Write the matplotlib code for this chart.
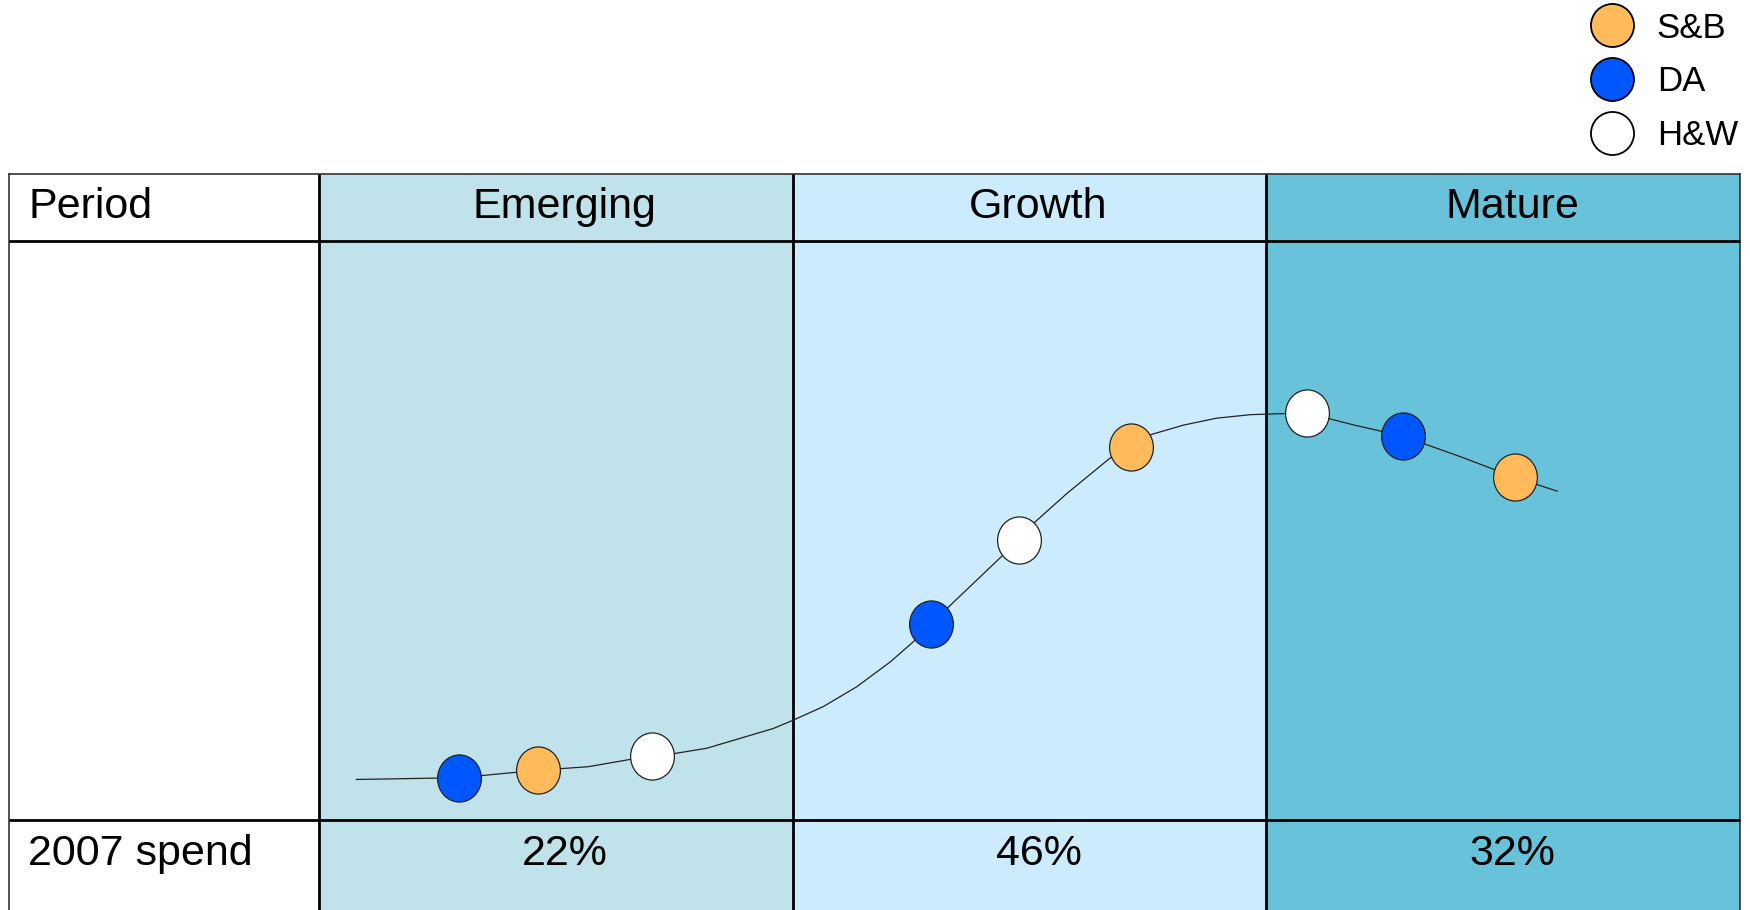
import matplotlib
matplotlib.use("Agg")
import matplotlib.pyplot as plt
from matplotlib.lines import Line2D
from matplotlib.patches import Rectangle
from matplotlib.path import Path
from matplotlib.transforms import Affine2D

plt.rcParams["font.family"] = ["Liberation Sans", "DejaVu Sans"]

# data
periods = ["Emerging", "Growth", "Mature"]
spend_2007 = ["22%", "46%", "32%"]
period_colors = ["#C0E3EB", "#CCECFE", "#68C2DA"]

# lifecycle curve: x in period units (0-3), y as relative maturity (0-1)
curve_x = [0.079, 0.295, 0.463, 0.568, 0.702, 0.752, 0.819, 0.889, 0.959, 1.000,
           1.065, 1.135, 1.206, 1.255, 1.292, 1.478, 1.508, 1.579, 1.670, 1.714,
           1.758, 1.825, 1.895, 1.966, 2.001, 2.085, 2.186, 2.288, 2.408, 2.524, 2.614]
curve_y = [0.070, 0.073, 0.086, 0.092, 0.111, 0.115, 0.124, 0.141, 0.158, 0.172,
           0.196, 0.230, 0.273, 0.308, 0.339, 0.484, 0.512, 0.564, 0.625, 0.645,
           0.666, 0.682, 0.694, 0.700, 0.701, 0.703, 0.682, 0.663, 0.628, 0.592, 0.568]

segments = ["S&B", "DA", "H&W"]
segment_colors = ["#FFBB5B", "#0057FF", "#FFFFFF"]
sb_x = [0.463, 1.714, 2.524]
sb_y = [0.086, 0.645, 0.592]
da_x = [0.295, 1.292, 2.288]
da_y = [0.073, 0.339, 0.663]
hw_x = [0.702, 1.478, 2.085]
hw_y = [0.111, 0.484, 0.703]

# layout in figure pixels
W, H = 1750, 910
left, label_right, right = 9, 319, 1740
top, header_bottom, body_bottom = 174, 241, 820
col_width = (right - label_right) / len(periods)

fig = plt.figure(figsize=(W / 100, H / 100), dpi=100)
frame = fig.add_axes([0, 0, 1, 1])
frame.set_xlim(0, W)
frame.set_ylim(H, 0)
frame.axis("off")

# period column fills
for index, color in enumerate(period_colors):
    x0 = label_right + index * col_width
    frame.add_patch(Rectangle((x0, top), col_width, H - top, facecolor=color, edgecolor="none", zorder=0))

# grid lines
line_kw = {"color": "black", "linewidth": 2.0, "zorder": 1, "solid_capstyle": "butt"}
frame.plot([left, right], [top, top], color="#333333", linewidth=1.2, zorder=1)
frame.plot([left, left], [top, H], color="#333333", linewidth=1.2, zorder=1)
frame.plot([right, right], [top, H], color="#333333", linewidth=1.2, zorder=1)
frame.plot([left, right], [header_bottom, header_bottom], **line_kw)
frame.plot([left, right], [body_bottom, body_bottom], **line_kw)
for index in range(len(periods)):
    x0 = label_right + index * col_width
    frame.plot([x0, x0], [top, H], **line_kw)

# row labels and cell texts
text_kw = {"fontsize": 31, "va": "baseline", "color": "black"}
frame.text(28, 218, "Period", ha="left", **text_kw)
frame.text(28, 865, "2007 spend", ha="left", **text_kw)
for index, (name, share) in enumerate(zip(periods, spend_2007)):
    center = label_right + (index + 0.5) * col_width + 9
    frame.text(center, 218, name, ha="center", **text_kw)
    frame.text(center, 865, share, ha="center", **text_kw)

# curve axes over the body row
curve_ax = fig.add_axes([label_right / W, (H - body_bottom) / H,
                         (right - label_right) / W, (body_bottom - header_bottom) / H])
curve_ax.set_xlim(0, 3)
curve_ax.set_ylim(0, 1)
curve_ax.axis("off")
curve_ax.patch.set_alpha(0)

curve_ax.plot(curve_x, curve_y, color="#222222", linewidth=0.9, zorder=2)

oval = Path.unit_circle().transformed(Affine2D().scale(0.93, 1.0))
for xs, ys, color in zip([sb_x, da_x, hw_x], [sb_y, da_y, hw_y], segment_colors):
    curve_ax.scatter(xs, ys, s=1150, marker=oval, facecolor=color, edgecolor="#222222",
                     linewidths=0.9, zorder=3)

# legend
handles = [
    Line2D([], [], linestyle="none", marker="o", markersize=31, markerfacecolor=color,
           markeredgecolor="black", markeredgewidth=1.3)
    for color in segment_colors
]
fig.legend(handles, segments, loc="upper right", bbox_to_anchor=(1738 / W, 1 - 11.5 / H),
           frameon=False, fontsize=25, handlelength=1.2, handletextpad=0.7,
           labelspacing=0.6, borderpad=0, borderaxespad=0)

fig.savefig("out.png", dpi=100)
